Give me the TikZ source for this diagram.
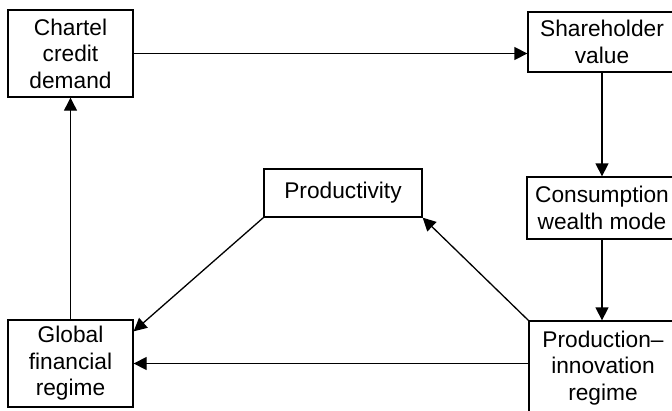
\documentclass[tikz,border=0pt]{standalone}
\usepackage{fontspec}
\setmainfont{Liberation Sans}
\usepackage{tikz}
\usetikzlibrary{arrows.meta,positioning}

\begin{document}
\begin{tikzpicture}[x=1pt,y=-1pt,
        box/.style = {rectangle,draw,line width=1.3pt,inner sep=0pt,align=center,font=\fontsize{22.7}{26.5}\selectfont},
        link/.style = {draw,line width=1.3pt,-{Triangle[length=13pt,width=13pt]}}]
        \useasboundingbox (0,0) rectangle (672,410);
        \node (chartel) at (70.5,53.5) [box,minimum width=125pt,minimum height=87pt] {Chartel\\credit\\demand};
        \node (share) at (602,42) [box,minimum width=148pt,minimum height=60pt] {Shareholder\\value};
        \node (cons) at (602,208) [box,minimum width=150pt,minimum height=62pt] {Consumption\\wealth mode};
        \node (prod) at (603,368) [box,minimum width=148pt,minimum height=94pt] {Production--\\innovation\\regime};
        \node (glob) at (70.5,363.5) [box,minimum width=125pt,minimum height=87pt] {Global\\financial\\regime};
        \node (prodty) at (343,193) [box,minimum width=158pt,minimum height=48pt] {Productivity};
        \path [link] (chartel) -- (chartel -| share.west);
        \path [link] (share.south -| cons) -- (cons.north);
        \path [link] (cons.south) -- (cons.south |- prod.north);
        \path [link] (prod.west |- glob) -- (glob.east);
        \path [link,line width=0.9pt] (glob.north) -- (chartel.south);
        \path [link] (prodty.south west) -- (glob.27);
        \path [link] (prod.north west) -- (prodty.south east);
\end{tikzpicture}
\end{document}
